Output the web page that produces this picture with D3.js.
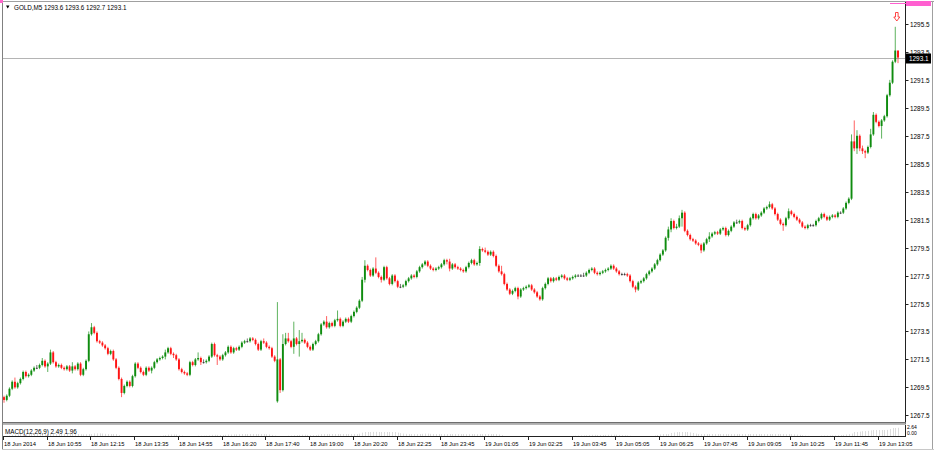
<!DOCTYPE html>
<html><head><meta charset="utf-8">
<script src="https://cdn.jsdelivr.net/npm/d3@7"></script>
<style>html,body{margin:0;padding:0;background:#fff;}svg{display:block;}text{font-family:"Liberation Sans",Arial,sans-serif;}</style>
</head><body><svg id="c" width="934" height="450"></svg>
<script>
const symbolTitle = "GOLD,M5";
const headerValues = ["1293.6","1293.6","1292.7","1293.1"];
const macdTitle = "MACD(12,26,9) 2.49 1.96";
const macdScaleLabels = ["2.64","0.00"];
const currentPrice = 1293.1;
const priceTicks = [1267.5,1269.5,1271.5,1273.5,1275.5,1277.5,1279.5,1281.5,1283.5,1285.5,1287.5,1289.5,1291.5,1293.5,1295.5];
const timeLabelBars = [0,16,32,48,64,80,96,112,128,144,160,176,192,208,224,240,256,272,288,304,320];
const timeLabels = ["18 Jun 2014","18 Jun 10:55","18 Jun 12:15","18 Jun 13:35","18 Jun 14:55","18 Jun 16:20","18 Jun 17:40","18 Jun 19:00","18 Jun 20:20","18 Jun 22:25","18 Jun 23:45","19 Jun 01:05","19 Jun 02:25","19 Jun 03:45","19 Jun 05:05","19 Jun 06:25","19 Jun 07:45","19 Jun 09:05","19 Jun 10:25","19 Jun 11:45","19 Jun 13:05"];

const opens = [1268.8,1268.6,1268.9,1269.4,1269.9,1269.5,1269.8,1270.1,1270.6,1270.3,
1270.4,1270.7,1270.9,1270.9,1271.1,1271.4,1271.0,1271.2,1272.0,1271.3,
1271.0,1271.1,1270.9,1270.8,1271.0,1270.7,1271.0,1270.8,1271.2,1270.4,
1270.8,1271.4,1273.3,1273.8,1273.4,1272.8,1272.7,1272.5,1272.3,1271.9,
1272.1,1271.5,1270.9,1270.1,1269.1,1269.6,1269.9,1269.6,1270.3,1271.2,
1270.9,1270.6,1270.4,1270.9,1270.7,1270.9,1271.3,1271.5,1271.6,1271.7,
1272.0,1272.3,1271.9,1271.8,1271.5,1270.8,1270.6,1270.5,1270.4,1271.3,
1271.1,1271.5,1271.6,1271.3,1271.3,1271.4,1271.7,1272.6,1271.8,1271.7,
1271.5,1271.8,1272.0,1272.4,1272.0,1272.3,1272.2,1272.4,1272.7,1272.8,
1272.8,1273.0,1272.9,1272.6,1272.2,1272.8,1272.7,1272.4,1272.3,1271.7,
1268.5,1271.5,1269.3,1272.6,1273.0,1272.8,1272.4,1273.0,1272.6,1272.8,
1272.9,1272.7,1272.4,1272.2,1272.6,1272.8,1273.3,1274.0,1274.2,1273.8,
1274.1,1273.9,1274.3,1274.4,1273.9,1274.2,1274.4,1274.2,1274.6,1274.9,
1275.2,1275.7,1277.2,1278.2,1277.9,1277.5,1278.0,1277.7,1277.4,1277.2,
1278.1,1277.3,1276.9,1277.5,1277.1,1276.7,1276.7,1276.8,1277.1,1277.3,
1277.5,1277.4,1277.8,1278.1,1278.3,1278.5,1278.2,1278.0,1277.9,1278.0,
1278.1,1278.3,1278.6,1278.5,1278.0,1278.3,1278.1,1278.0,1277.9,1277.8,
1278.1,1278.4,1278.6,1278.3,1278.4,1279.4,1279.3,1279.2,1279.0,1279.2,
1278.9,1278.2,1277.8,1277.6,1276.9,1276.5,1276.2,1276.4,1276.6,1276.0,
1276.5,1276.6,1276.7,1276.8,1276.5,1276.3,1276.0,1275.8,1276.6,1276.9,
1277.3,1277.1,1277.3,1277.2,1277.4,1277.5,1277.3,1277.2,1277.3,1277.4,
1277.5,1277.5,1277.5,1277.5,1277.7,1277.9,1278.0,1277.7,1277.6,1277.7,
1277.8,1277.9,1278.0,1278.2,1278.0,1277.8,1277.6,1277.6,1277.6,1277.5,
1277.1,1276.7,1276.5,1277.0,1277.1,1277.3,1277.6,1277.8,1278.0,1278.3,
1278.6,1279.0,1279.3,1280.2,1280.8,1281.4,1280.9,1281.0,1281.6,1282.0,
1280.7,1280.4,1280.1,1280.0,1279.8,1279.7,1279.3,1279.8,1280.1,1280.3,
1280.5,1280.6,1280.5,1280.8,1280.9,1280.4,1280.7,1281.0,1281.3,1281.3,
1281.4,1280.9,1280.8,1281.1,1281.6,1281.9,1281.6,1281.8,1282.0,1282.3,
1282.4,1282.6,1282.3,1281.9,1281.5,1281.2,1281.1,1281.6,1282.1,1281.9,
1281.7,1281.5,1281.3,1281.0,1280.9,1281.1,1281.1,1281.1,1281.4,1281.6,
1281.9,1281.7,1281.5,1281.7,1281.8,1281.7,1282.0,1282.0,1282.3,1282.7,
1283.0,1287.1,1286.6,1287.5,1286.6,1286.4,1286.3,1286.7,1287.6,1289.0,
1288.5,1288.2,1288.6,1288.9,1290.4,1291.3,1292.8,1293.6];

const highs = [1268.9,1269.0,1269.5,1270.0,1270.2,1269.9,1270.2,1270.7,1270.7,1270.5,
1270.8,1271.0,1271.1,1271.2,1271.6,1271.5,1271.3,1272.2,1272.1,1271.4,
1271.2,1271.2,1271.0,1271.1,1271.1,1271.3,1271.1,1271.3,1271.3,1270.9,
1271.5,1273.5,1274.1,1273.9,1273.5,1272.9,1272.8,1272.6,1272.4,1272.2,
1272.2,1271.6,1271.0,1270.2,1269.7,1270.0,1270.0,1270.4,1271.3,1271.3,
1271.0,1270.7,1271.0,1271.0,1271.0,1271.4,1271.6,1271.7,1271.8,1272.2,
1272.4,1272.4,1272.0,1271.9,1271.6,1270.9,1270.7,1270.6,1271.4,1271.4,
1271.6,1272.0,1271.7,1271.5,1271.5,1271.8,1272.7,1272.7,1271.9,1271.8,
1271.9,1272.1,1272.5,1272.5,1272.4,1272.4,1272.5,1272.8,1272.9,1273.0,
1273.1,1273.1,1273.0,1272.7,1272.9,1273.0,1272.8,1272.5,1272.4,1271.8,
1275.6,1271.6,1273.3,1273.4,1273.4,1272.9,1274.2,1273.1,1273.6,1273.4,
1273.0,1272.8,1272.5,1272.7,1272.9,1273.4,1274.1,1274.3,1274.6,1274.2,
1274.2,1274.4,1275.0,1274.5,1274.3,1274.5,1274.5,1274.7,1275.0,1275.3,
1275.8,1277.4,1278.6,1278.3,1278.0,1278.1,1278.8,1277.8,1277.5,1278.2,
1278.2,1277.4,1277.6,1277.6,1277.2,1276.9,1276.9,1277.2,1277.4,1277.6,
1277.6,1277.9,1278.2,1278.4,1278.6,1278.6,1278.3,1278.1,1278.1,1278.2,
1278.4,1278.7,1278.7,1278.7,1278.4,1278.4,1278.2,1278.1,1278.0,1278.2,
1278.5,1278.7,1278.7,1278.5,1279.6,1279.5,1279.5,1279.3,1279.3,1279.3,
1279.0,1278.3,1278.2,1277.7,1277.0,1276.6,1276.5,1276.7,1276.7,1276.6,
1276.7,1276.8,1276.9,1276.9,1276.6,1276.4,1276.1,1276.7,1277.0,1277.4,
1277.4,1277.4,1277.4,1277.5,1277.6,1277.6,1277.4,1277.4,1277.5,1277.6,
1277.6,1277.6,1277.7,1277.8,1278.0,1278.1,1278.1,1277.8,1277.8,1277.9,
1278.0,1278.1,1278.3,1278.3,1278.1,1277.9,1277.7,1277.7,1277.7,1277.6,
1277.2,1276.8,1277.1,1277.2,1277.4,1277.7,1277.9,1278.1,1278.4,1278.7,
1279.1,1279.4,1280.3,1281.0,1281.6,1281.5,1281.2,1281.8,1282.2,1282.1,
1280.8,1280.5,1280.2,1280.1,1279.9,1279.8,1279.9,1280.2,1280.6,1280.6,
1280.7,1280.7,1280.9,1281.0,1281.0,1280.8,1281.1,1281.4,1281.5,1281.5,
1281.5,1281.0,1281.2,1281.7,1282.0,1282.0,1281.9,1282.1,1282.4,1282.5,
1282.8,1282.7,1282.4,1282.0,1281.6,1281.3,1281.7,1282.3,1282.2,1282.0,
1281.8,1281.6,1281.4,1281.1,1281.2,1281.2,1281.2,1281.5,1281.7,1282.0,
1282.0,1281.8,1281.8,1281.9,1281.9,1282.1,1282.1,1282.4,1282.8,1283.1,
1287.6,1288.6,1287.9,1287.6,1286.8,1286.5,1286.8,1288.0,1289.2,1289.1,
1288.6,1288.7,1289.0,1290.5,1291.5,1292.9,1295.3,1293.6];

const lows = [1268.4,1268.5,1268.8,1269.3,1269.4,1269.4,1269.7,1270.0,1270.2,1270.2,
1270.3,1270.6,1270.8,1270.8,1271.0,1270.9,1270.6,1271.1,1271.2,1270.9,
1270.9,1270.8,1270.7,1270.7,1270.6,1270.5,1270.7,1270.7,1270.3,1270.3,
1270.7,1271.3,1273.2,1273.3,1272.7,1272.6,1272.4,1272.2,1271.8,1271.8,
1271.4,1270.8,1270.0,1268.8,1269.0,1269.5,1269.5,1269.5,1270.2,1270.8,
1270.5,1270.3,1270.3,1270.6,1270.5,1270.8,1271.2,1271.4,1271.5,1271.5,
1271.9,1271.8,1271.6,1271.4,1270.7,1270.5,1270.4,1270.3,1270.3,1271.0,
1271.0,1271.4,1271.1,1271.2,1271.2,1271.3,1271.6,1271.7,1271.1,1271.4,
1271.4,1271.7,1271.9,1271.9,1271.9,1272.1,1272.1,1272.3,1272.6,1272.7,
1272.7,1272.8,1272.5,1272.1,1272.1,1272.6,1272.3,1272.2,1271.6,1271.3,
1268.4,1269.1,1269.2,1272.5,1272.7,1272.3,1271.9,1272.5,1271.7,1272.7,
1272.6,1272.3,1272.1,1272.1,1272.5,1272.7,1273.2,1273.9,1273.7,1273.7,
1273.8,1273.8,1274.2,1273.8,1273.8,1274.1,1274.1,1274.1,1274.5,1274.8,
1275.1,1275.6,1277.0,1277.8,1277.4,1277.4,1277.6,1277.3,1277.0,1277.1,
1277.2,1276.8,1276.8,1277.0,1276.6,1276.6,1276.6,1276.7,1277.0,1277.2,
1277.3,1277.3,1277.7,1278.0,1278.2,1278.1,1277.9,1277.8,1277.8,1277.9,
1278.0,1278.2,1278.3,1277.8,1277.9,1278.0,1277.9,1277.8,1277.7,1277.7,
1278.0,1278.3,1278.2,1278.2,1278.2,1279.2,1279.1,1278.9,1278.9,1278.8,
1278.1,1277.7,1277.5,1276.8,1276.4,1276.1,1276.1,1276.3,1275.8,1275.9,
1276.4,1276.5,1276.6,1276.4,1276.2,1275.9,1275.7,1275.7,1276.5,1276.8,
1277.0,1277.0,1277.1,1277.1,1277.3,1277.2,1277.1,1277.1,1277.2,1277.3,
1277.4,1277.4,1277.4,1277.4,1277.6,1277.8,1277.6,1277.5,1277.5,1277.6,
1277.7,1277.8,1277.9,1277.9,1277.7,1277.5,1277.5,1277.5,1277.4,1277.0,
1276.6,1276.3,1276.4,1276.9,1277.0,1277.2,1277.5,1277.7,1277.9,1278.2,
1278.5,1278.9,1279.2,1280.0,1280.6,1280.8,1280.8,1280.9,1281.0,1280.6,
1280.3,1280.0,1279.9,1279.7,1279.6,1279.1,1279.2,1279.7,1279.9,1280.2,
1280.4,1280.4,1280.4,1280.7,1280.3,1280.3,1280.6,1280.9,1281.2,1281.2,
1280.8,1280.7,1280.7,1281.0,1281.5,1281.5,1281.5,1281.7,1281.9,1282.2,
1282.3,1282.2,1281.8,1281.4,1281.1,1280.7,1281.0,1281.5,1281.8,1281.6,
1281.4,1281.2,1280.9,1280.8,1280.8,1281.0,1281.0,1281.0,1281.3,1281.5,
1281.6,1281.4,1281.4,1281.6,1281.6,1281.6,1281.9,1281.9,1282.2,1282.6,
1282.9,1286.4,1286.2,1286.4,1286.2,1285.9,1286.2,1286.6,1287.5,1288.4,
1288.1,1287.3,1288.5,1288.8,1290.3,1291.2,1292.7,1292.7];

const closes = [1268.6,1268.9,1269.4,1269.9,1269.5,1269.8,1270.1,1270.6,1270.3,1270.4,
1270.7,1270.9,1270.9,1271.1,1271.4,1271.0,1271.2,1272.0,1271.3,1271.0,
1271.1,1270.9,1270.8,1271.0,1270.7,1271.0,1270.8,1271.2,1270.4,1270.8,
1271.4,1273.3,1273.8,1273.4,1272.8,1272.7,1272.5,1272.3,1271.9,1272.1,
1271.5,1270.9,1270.1,1269.1,1269.6,1269.9,1269.6,1270.3,1271.2,1270.9,
1270.6,1270.4,1270.9,1270.7,1270.9,1271.3,1271.5,1271.6,1271.7,1272.0,
1272.3,1271.9,1271.8,1271.5,1270.8,1270.6,1270.5,1270.4,1271.3,1271.1,
1271.5,1271.6,1271.3,1271.3,1271.4,1271.7,1272.6,1271.8,1271.7,1271.5,
1271.8,1272.0,1272.4,1272.0,1272.3,1272.2,1272.4,1272.7,1272.8,1272.8,
1273.0,1272.9,1272.6,1272.2,1272.8,1272.7,1272.4,1272.3,1271.7,1271.4,
1271.5,1269.3,1272.6,1273.0,1272.8,1272.4,1273.0,1272.6,1272.8,1272.9,
1272.7,1272.4,1272.2,1272.6,1272.8,1273.3,1274.0,1274.2,1273.8,1274.1,
1273.9,1274.3,1274.4,1273.9,1274.2,1274.4,1274.2,1274.6,1274.9,1275.2,
1275.7,1277.2,1278.2,1277.9,1277.5,1278.0,1277.7,1277.4,1277.2,1278.1,
1277.3,1276.9,1277.5,1277.1,1276.7,1276.7,1276.8,1277.1,1277.3,1277.5,
1277.4,1277.8,1278.1,1278.3,1278.5,1278.2,1278.0,1277.9,1278.0,1278.1,
1278.3,1278.6,1278.5,1278.0,1278.3,1278.1,1278.0,1277.9,1277.8,1278.1,
1278.4,1278.6,1278.3,1278.4,1279.4,1279.3,1279.2,1279.0,1279.2,1278.9,
1278.2,1277.8,1277.6,1276.9,1276.5,1276.2,1276.4,1276.6,1276.0,1276.5,
1276.6,1276.7,1276.8,1276.5,1276.3,1276.0,1275.8,1276.6,1276.9,1277.3,
1277.1,1277.3,1277.2,1277.4,1277.5,1277.3,1277.2,1277.3,1277.4,1277.5,
1277.5,1277.5,1277.5,1277.7,1277.9,1278.0,1277.7,1277.6,1277.7,1277.8,
1277.9,1278.0,1278.2,1278.0,1277.8,1277.6,1277.6,1277.6,1277.5,1277.1,
1276.7,1276.5,1277.0,1277.1,1277.3,1277.6,1277.8,1278.0,1278.3,1278.6,
1279.0,1279.3,1280.2,1280.8,1281.4,1280.9,1281.0,1281.6,1282.0,1280.7,
1280.4,1280.1,1280.0,1279.8,1279.7,1279.3,1279.8,1280.1,1280.3,1280.5,
1280.6,1280.5,1280.8,1280.9,1280.4,1280.7,1281.0,1281.3,1281.3,1281.4,
1280.9,1280.8,1281.1,1281.6,1281.9,1281.6,1281.8,1282.0,1282.3,1282.4,
1282.6,1282.3,1281.9,1281.5,1281.2,1281.1,1281.6,1282.1,1281.9,1281.7,
1281.5,1281.3,1281.0,1280.9,1281.1,1281.1,1281.1,1281.4,1281.6,1281.9,
1281.7,1281.5,1281.7,1281.8,1281.7,1282.0,1282.0,1282.3,1282.7,1283.0,
1287.1,1286.6,1287.5,1286.6,1286.4,1286.3,1286.7,1287.6,1289.0,1288.5,
1288.2,1288.6,1288.9,1290.4,1291.3,1292.8,1293.6,1293.1];

const N = closes.length;
const svg = d3.select("#c");
const upColor = "#0f8c0f", downColor = "#ff1414", dojiColor = "#333333";

const x = d3.scaleLinear().domain([0, N - 1]).range([4, 898]);
const y = d3.scaleLinear().domain([1267.5, 1295.5]).range([415.3, 24]);

// frame
svg.append("rect").attr("x",0).attr("y",0).attr("width",934).attr("height",450).attr("fill","#fff");
svg.append("line").attr("x1",2.5).attr("x2",2.5).attr("y1",1).attr("y2",450).attr("stroke","#808080");
svg.append("line").attr("x1",2).attr("x2",934).attr("y1",1.5).attr("y2",1.5).attr("stroke","#a0a0a0");
svg.append("line").attr("x1",932.5).attr("x2",932.5).attr("y1",1).attr("y2",450).attr("stroke","#a0a0a0");
svg.append("rect").attr("x",0).attr("y",0).attr("width",3).attr("height",3).attr("fill","#ff66cc");

// price axis
const axisX = 905.5;
svg.append("line").attr("x1",axisX).attr("x2",axisX).attr("y1",2).attr("y2",437).attr("stroke","#222");
const pt = svg.append("g");
priceTicks.forEach(p => {
  const yy = Math.round(y(p)) + 0.5;
  pt.append("line").attr("x1",axisX).attr("x2",axisX+3).attr("y1",yy).attr("y2",yy).attr("stroke","#222");
  pt.append("text").attr("x",910).attr("y",yy+2.3).attr("font-size","6.4px").attr("fill","#000").text(p.toFixed(1));
});

// current price line
const cy = Math.round(y(currentPrice)) + 0.5;
svg.append("line").attr("x1",3).attr("x2",905).attr("y1",cy).attr("y2",cy).attr("stroke","#b4b4b4");

// candles
const g = svg.append("g");
for (let i = 0; i < N; i++) {
  const o = opens[i], c = closes[i], h = highs[i], l = lows[i];
  const col = c > o ? upColor : (c < o ? downColor : dojiColor);
  const xc = x(i);
  g.append("line").attr("x1",xc).attr("x2",xc).attr("y1",y(h)).attr("y2",y(l))
    .attr("stroke",col).attr("stroke-width",0.9).attr("stroke-opacity",0.75);
  const top = y(Math.max(o,c)), bot = y(Math.min(o,c));
  g.append("rect").attr("x",xc-0.95).attr("width",1.9).attr("y",top).attr("height",Math.max(0.9, bot-top)).attr("fill",col);
}

// arrow marker above last bar
const ax = x(N - 1) - 1.2;
svg.append("path").attr("d",`M${ax-1.3},12.5 L${ax+1.3},12.5 L${ax+1.3},17 L${ax+3},17 L${ax},21 L${ax-3},17 L${ax-1.3},17 Z`)
  .attr("fill","#fff").attr("stroke","#ff3030").attr("stroke-width",0.9);

// current price label
svg.append("rect").attr("x",906).attr("y",cy-5).attr("width",25).attr("height",10).attr("fill","#000");
svg.append("text").attr("x",909).attr("y",cy+2.3).attr("font-size","6.4px").attr("fill","#fff").text(currentPrice.toFixed(1));

// pink label top right
svg.append("rect").attr("x",906).attr("y",1).attr("width",25).attr("height",5).attr("fill","#ff5fd0");
svg.append("line").attr("x1",890).attr("x2",906).attr("y1",3.5).attr("y2",3.5).attr("stroke","#ff5fd0");

// header
svg.append("path").attr("d","M6,5.5 L9.5,5.5 L7.75,8.5 Z").attr("fill","#000");
svg.append("text").attr("x",14).attr("y",10).attr("font-size","6.3px").attr("fill","#000")
  .text(symbolTitle + "  " + headerValues.join(" "));

// separator
svg.append("rect").attr("x",3).attr("y",422).attr("width",903).attr("height",1.6).attr("fill","#6e6e6e");
svg.append("rect").attr("x",3).attr("y",423.6).attr("width",903).attr("height",1.4).attr("fill","#b8b8b8");

// MACD window (main line of MACD(12,26,9) derived from the closes, as the terminal does)
function ema(arr, n) { const k = 2/(n+1); const out=[]; let e=arr[0]; arr.forEach((v,i)=>{ e = i===0? v : v*k + e*(1-k); out.push(e);}); return out; }
const e12 = ema(closes,12), e26 = ema(closes,26);
const macd = e12.map((v,i)=>v - e26[i]);
const my = d3.scaleLinear().domain([0, 2.64]).range([435.5, 427]);
const mg = svg.append("g");
macd.forEach((v,i)=>{
  if (v <= 0.02) return;
  const xc = Math.round(x(i)) + 0.5;
  mg.append("line").attr("x1",xc).attr("x2",xc).attr("y1",my(0)).attr("y2",my(Math.min(v,2.64)))
    .attr("stroke","#b8b8b8").attr("stroke-width",1).attr("stroke-dasharray","1,1");
});
svg.append("text").attr("x",5).attr("y",433.5).attr("font-size","6.3px").attr("fill","#000").text(macdTitle);
svg.append("text").attr("x",907).attr("y",429).attr("font-size","5px").attr("fill","#000").text(macdScaleLabels[0]);
svg.append("text").attr("x",907).attr("y",434.5).attr("font-size","5px").attr("fill","#000").text(macdScaleLabels[1]);

// time axis
svg.append("line").attr("x1",3).attr("x2",906).attr("y1",436.5).attr("y2",436.5).attr("stroke","#222");
const tg = svg.append("g");
timeLabelBars.forEach((b,k)=>{
  const xx = Math.round(x(b)) - 0.5;
  tg.append("line").attr("x1",xx).attr("x2",xx).attr("y1",436.5).attr("y2",440).attr("stroke","#222");
  tg.append("text").attr("x",xx+0.5).attr("y",446.3).attr("font-size","5.8px").attr("fill","#000").text(timeLabels[k]);
});
svg.append("line").attr("x1",2).attr("x2",934).attr("y1",449.5).attr("y2",449.5).attr("stroke","#c8c8c8");
</script></body></html>
